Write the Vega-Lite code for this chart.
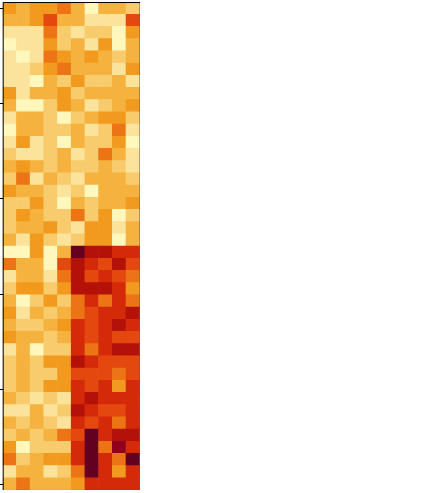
{
  "$schema": "https://vega.github.io/schema/vega-lite/v6.json",
  "width": 137,
  "height": 488,
  "autosize": {"type": "none"},
  "padding": {"left": 2.7, "top": 2, "right": 0, "bottom": 0},
  "background": "white",
  "config": {"view": {"stroke": null}, "axis": {"zindex": 1}},
  "datasets": {
    "grid": [
      {"r":0,"vals":[5,4,5,5,6,4,1,4,4,3]},
      {"r":1,"vals":[4,4,5,7,4,4,2,2,2,7]},
      {"r":2,"vals":[2,2,2,6,3,2,3,3,1,5]},
      {"r":3,"vals":[1,2,2,5,3,4,2,5,1,4]},
      {"r":4,"vals":[2,1,2,6,5,4,5,4,3,4]},
      {"r":5,"vals":[2,2,3,5,6,4,4,4,2,5]},
      {"r":6,"vals":[2,2,1,4,3,5,3,3,4,2]},
      {"r":7,"vals":[5,2,4,4,5,3,4,4,4,4]},
      {"r":8,"vals":[4,1,1,3,5,4,2,3,4,5]},
      {"r":9,"vals":[2,4,4,3,1,3,4,5,5,3]},
      {"r":10,"vals":[1,4,4,3,3,4,2,3,6,2]},
      {"r":11,"vals":[2,5,2,3,1,4,3,3,5,1]},
      {"r":12,"vals":[3,2,2,3,4,2,3,6,4,2]},
      {"r":13,"vals":[4,5,4,3,4,3,3,4,3,2]},
      {"r":14,"vals":[3,6,2,4,3,2,4,4,4,3]},
      {"r":15,"vals":[5,4,4,3,2,3,1,4,4,4]},
      {"r":16,"vals":[3,3,5,3,1,4,3,4,4,5]},
      {"r":17,"vals":[3,5,4,3,3,6,3,5,1,3]},
      {"r":18,"vals":[3,4,4,5,3,2,5,5,2,4]},
      {"r":19,"vals":[4,2,5,3,2,3,5,5,1,4]},
      {"r":20,"vals":[1,1,5,1,4,10,9,9,8,8]},
      {"r":21,"vals":[6,4,4,1,7,9,8,7,9,7]},
      {"r":22,"vals":[2,4,4,2,6,9,7,8,7,6]},
      {"r":23,"vals":[3,5,5,3,5,9,9,9,8,5]},
      {"r":24,"vals":[4,1,3,5,3,6,8,6,8,6]},
      {"r":25,"vals":[5,2,4,3,4,6,7,8,8,9]},
      {"r":26,"vals":[4,3,3,4,5,8,7,8,9,8]},
      {"r":27,"vals":[5,4,4,3,4,8,7,8,7,7]},
      {"r":28,"vals":[2,4,1,3,3,8,6,8,9,9]},
      {"r":29,"vals":[3,4,3,5,5,9,8,7,7,7]},
      {"r":30,"vals":[3,4,3,3,5,7,7,7,6,7]},
      {"r":31,"vals":[3,4,3,5,5,8,7,8,5,8]},
      {"r":32,"vals":[4,3,2,3,2,8,9,8,8,8]},
      {"r":33,"vals":[2,2,4,2,3,9,8,7,7,8]},
      {"r":34,"vals":[4,3,4,3,2,8,7,8,6,8]},
      {"r":35,"vals":[3,4,3,4,6,7,10,8,9,9]},
      {"r":36,"vals":[5,1,3,3,3,8,10,6,9.5,8]},
      {"r":37,"vals":[6,3,4,5,5,8,10,8,6,10]},
      {"r":38,"vals":[2,4,4,2,3,6,10,8,5,8]},
      {"r":39,"vals":[4,6,4,4,4,5,8,8,8,8]}
    ]
  },
  "data": {"name": "grid"},
  "transform": [
    {"flatten": ["vals"], "as": ["v"]},
    {"window": [{"op": "row_number", "as": "n"}], "groupby": ["r"]}
  ],
  "resolve": {"axis": {"x": "independent", "y": "independent"}},
  "layer": [
    {
      "mark": {"type": "rect", "width": 14.3, "height": 12.8, "clip": true},
      "encoding": {
        "x": {
          "field": "n", "type": "quantitative",
          "scale": {"domain": [0.5, 10.5], "nice": false, "zero": false},
          "axis": {"orient": "bottom", "zindex": 1, "values": [1, 2.8, 4.6, 6.4, 8.2, 10], "labels": false, "title": null, "grid": false, "domain": true, "domainColor": "black", "domainWidth": 1, "tickColor": "black", "tickSize": 3.5, "tickWidth": 1}
        },
        "y": {
          "field": "r", "type": "quantitative",
          "scale": {"domain": [39.5, -0.5], "nice": false, "zero": false},
          "axis": {"orient": "left", "zindex": 1, "values": [0, 7.8, 15.6, 23.4, 31.2, 39], "labels": false, "title": null, "grid": false, "domain": true, "domainColor": "black", "domainWidth": 1, "tickColor": "black", "tickSize": 3.5, "tickWidth": 1}
        },
        "color": {
          "field": "v", "type": "quantitative",
          "scale": {
            "domain": [1, 2, 3, 4, 5, 6, 7, 8, 9, 10],
            "range": ["#fff7bc", "#fbe39c", "#f8cc6c", "#f5b23e", "#f29a1e", "#ec7414", "#e4480e", "#d42a0a", "#b41208", "#640020"]
          },
          "legend": null
        }
      }
    },
    {
      "mark": {"type": "point", "opacity": 0},
      "encoding": {
        "x": {
          "field": "n", "type": "quantitative",
          "axis": {"orient": "top", "zindex": 1, "labels": false, "ticks": false, "title": null, "grid": false, "domain": true, "domainColor": "black", "domainWidth": 1}
        },
        "y": {
          "field": "r", "type": "quantitative",
          "axis": {"orient": "right", "zindex": 1, "labels": false, "ticks": false, "title": null, "grid": false, "domain": true, "domainColor": "black", "domainWidth": 1}
        }
      }
    }
  ]
}
